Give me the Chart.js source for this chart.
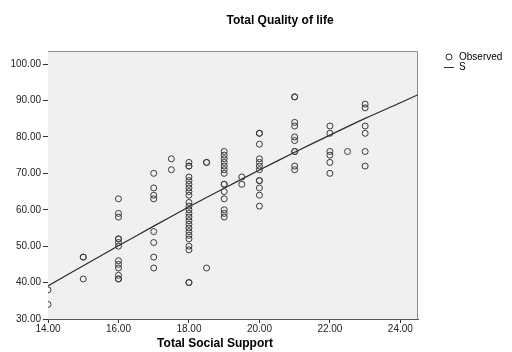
<!DOCTYPE html>
<html>
<head>
<meta charset="utf-8">
<script src="https://cdn.jsdelivr.net/npm/chart.js@4/dist/chart.umd.min.js"></script>
<style>
  html, body { margin: 0; padding: 0; background: #ffffff; }
  canvas { display: block; }
</style>
</head>
<body>
<canvas id="grafico" width="512" height="352"></canvas>
<script>
// Valores observados (Total Social Support x Total Quality of life)
var supportValues = [
  14, 14,
  15, 15, 15,
  16, 16, 16, 16, 16, 16, 16, 16, 16, 16, 16, 16, 16,
  17, 17, 17, 17, 17, 17, 17, 17,
  17.5, 17.5,
  18, 18, 18, 18, 18, 18, 18, 18, 18, 18, 18, 18, 18, 18, 18, 18, 18, 18, 18, 18, 18, 18, 18, 18,
  18.5, 18.5, 18.5,
  19, 19, 19, 19, 19, 19, 19, 19, 19, 19, 19, 19, 19, 19,
  19.5, 19.5,
  20, 20, 20, 20, 20, 20, 20, 20, 20, 20, 20, 20,
  21, 21, 21, 21, 21, 21, 21, 21, 21, 21,
  22, 22, 22, 22, 22, 22,
  22.5,
  23, 23, 23, 23, 23, 23
];
var qualityValues = [
  38, 34,
  47, 47, 41,
  63, 59, 58, 52, 52, 51, 50, 46, 45, 44, 42, 41, 41,
  70, 66, 64, 63, 54, 51, 47, 44,
  74, 71,
  73, 72, 72, 69, 68, 67, 66, 65, 64, 62, 61, 60, 59, 58, 57, 56, 55, 54, 53, 52, 50, 49, 40, 40,
  73, 73, 44,
  76, 75, 74, 73, 72, 71, 70, 67, 67, 65, 63, 60, 59, 58,
  69, 67,
  81, 81, 78, 74, 73, 72, 71, 68, 68, 66, 64, 61,
  91, 91, 84, 83, 80, 79, 76, 76, 72, 71,
  83, 81, 76, 75, 73, 70,
  76,
  89, 88, 83, 81, 76, 72
];

// Curva S ajustada
var fitSupport = [14, 15, 16, 17, 18, 19, 20, 21, 22, 23, 24, 24.5];
var fitQuality = [39.1, 44.6, 50.1, 55.5, 60.8, 65.9, 70.9, 75.8, 80.5, 85.1, 89.4, 91.6];

var xTicks = [14, 16, 18, 20, 22, 24];
var yTicks = [30, 40, 50, 60, 70, 80, 90, 100];

var observedPoints = [];
for (var i = 0; i < supportValues.length; i++) {
  observedPoints.push({ x: supportValues[i], y: qualityValues[i] });
}
var fitPoints = [];
for (var j = 0; j < fitSupport.length; j++) {
  fitPoints.push({ x: fitSupport[j], y: fitQuality[j] });
}

var fonte = '"Liberation Sans", Arial, sans-serif';

// Fundo cinza da area do grafico, moldura, titulos e legenda
var spssPlugin = {
  id: 'spss',
  beforeDatasetsDraw: function(chart) {
    var c = chart.ctx, a = chart.chartArea;
    c.save();
    c.fillStyle = '#f0f0f0';
    c.fillRect(a.left, a.top, a.right - a.left, a.bottom - a.top);
    c.strokeStyle = '#8c8c8c';
    c.lineWidth = 1;
    c.beginPath();
    c.moveTo(a.left, a.top + 0.5);
    c.lineTo(a.right - 0.5, a.top + 0.5);
    c.lineTo(a.right - 0.5, a.bottom);
    c.stroke();
    c.restore();
  },
  afterDraw: function(chart) {
    var c = chart.ctx;
    c.save();
    c.fillStyle = '#000000';
    c.font = 'bold 12px ' + fonte;
    c.textAlign = 'center';
    c.textBaseline = 'middle';
    c.fillText('Total Quality of life', 280, 21);
    c.fillText('Total Social Support', 215, 344);

    // legenda
    var ds = chart.data.datasets;
    c.font = '10px ' + fonte;
    c.textAlign = 'left';
    c.strokeStyle = '#333333';
    c.lineWidth = 1;
    c.beginPath();
    c.arc(449, 57, 3, 0, Math.PI * 2);
    c.stroke();
    c.fillText(ds[0].label, 459, 57);
    c.beginPath();
    c.moveTo(444, 67.5);
    c.lineTo(454, 67.5);
    c.stroke();
    c.fillText(ds[1].label, 459, 67);
    c.restore();
  }
};

var ctx = document.getElementById('grafico').getContext('2d');

var myChart = new Chart(ctx, {
  type: 'scatter',
  data: {
    datasets: [{
      label: 'Observed',
      data: observedPoints,
      pointStyle: 'circle',
      pointRadius: 3,
      pointBorderWidth: 1,
      pointBorderColor: '#3a3a3a',
      pointBackgroundColor: 'rgba(0,0,0,0)',
      showLine: false
    }, {
      label: 'S',
      data: fitPoints,
      showLine: true,
      pointRadius: 0,
      borderColor: '#2a2a2a',
      borderWidth: 1.2,
      fill: false,
      tension: 0.3
    }]
  },
  options: {
    responsive: false,
    animation: false,
    layout: { padding: { left: 0, top: 51, right: 94, bottom: 0 } },
    plugins: {
      legend: { display: false },
      title: { display: false },
      tooltip: { enabled: false }
    },
    scales: {
      x: {
        type: 'linear',
        min: 14,
        max: 24.5,
        afterFit: function(scale) { scale.height = 33; },
        afterBuildTicks: function(scale) {
          scale.ticks = xTicks.map(function(v) { return { value: v }; });
        },
        border: { display: true, color: '#555555', width: 1 },
        grid: { drawOnChartArea: false, drawTicks: true, tickLength: 4, color: '#333333' },
        ticks: {
          padding: 0,
          color: '#222222',
          font: { family: fonte, size: 10 },
          maxRotation: 0,
          callback: function(v) { return v.toFixed(2); }
        }
      },
      y: {
        type: 'linear',
        min: 30,
        max: 103.6,
        afterFit: function(scale) { scale.width = 48; },
        afterBuildTicks: function(scale) {
          scale.ticks = yTicks.map(function(v) { return { value: v }; });
        },
        border: { display: true, color: '#555555', width: 1 },
        grid: { drawOnChartArea: false, drawTicks: true, tickLength: 5, color: '#333333' },
        ticks: {
          padding: 2,
          color: '#222222',
          font: { family: fonte, size: 10 },
          callback: function(v) { return v.toFixed(2); }
        }
      }
    }
  },
  plugins: [spssPlugin]
});
</script>
</body>
</html>
